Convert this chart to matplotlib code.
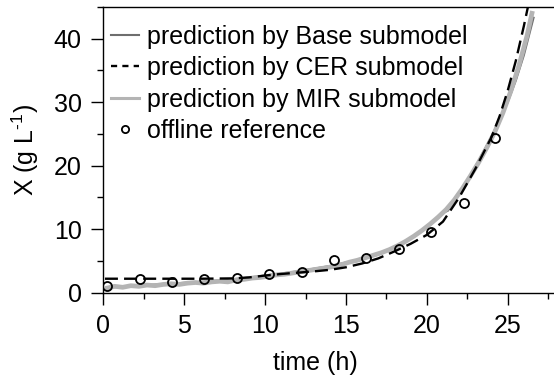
import matplotlib
matplotlib.use('Agg')
import matplotlib.pyplot as plt
from matplotlib.ticker import MultipleLocator

plt.rcParams['font.family'] = ['Liberation Sans', 'DejaVu Sans']
plt.rcParams['mathtext.fontset'] = 'custom'
plt.rcParams['mathtext.rm'] = 'Liberation Sans'
plt.rcParams['mathtext.default'] = 'regular'

# offline reference samples
t_ref = [0.25, 2.27, 4.27, 6.25, 8.25, 10.27, 12.27, 14.27, 16.27, 18.25, 20.27, 22.27, 24.22]
x_ref = [1.1, 2.15, 1.73, 2.2, 2.26, 2.94, 3.25, 5.1, 5.4, 6.83, 9.5, 14.2, 24.3]

# CER submodel prediction
t_cer = [0.1, 2, 4, 6, 8, 9, 10, 11, 12, 13, 14, 15, 16, 17, 18, 19, 20, 21, 22, 23, 24, 24.5, 25, 25.5, 26, 26.25]
x_cer = [2.2, 2.2, 2.2, 2.2, 2.25, 2.4, 2.7, 2.95, 3.15, 3.35, 3.6, 4.0, 4.6, 5.4, 6.5, 7.7, 9.1, 11.2, 15.0, 19.5, 24.5, 27.8, 31.8, 36.5, 42.0, 45.0]

# Base submodel prediction
t_base = [0.3, 2, 4, 6, 8, 10, 12, 14, 16, 17, 18, 19, 20, 20.5, 21, 21.3, 22, 23, 24, 25, 25.5, 26, 26.6]
x_base = [0.8, 1.1, 1.4, 1.7, 2.1, 2.7, 3.35, 4.2, 5.3, 6.0, 7.2, 8.6, 10.3, 11.3, 12.6, 12.9, 15.6, 19.8, 24.6, 30.0, 33.4, 37.4, 43.3]

# MIR submodel prediction (noisy)
t_mir = [0.2, 0.7, 1.2, 1.7, 2.2, 2.7, 3.2, 3.7, 4.2, 4.7, 5.2, 5.7, 6.2, 6.7, 7.2, 7.7, 8.2, 8.7,
         9.2, 9.7, 10.2, 10.7, 11.2, 11.7, 12.2, 12.7, 13.2, 13.7, 14.2, 14.7, 15.2, 15.7, 16.2, 16.7,
         17.2, 17.7, 18.2, 18.7, 19.2, 19.7, 20.2, 20.7, 21.2, 21.7, 22.2, 22.7, 23.2, 23.7, 24.2, 24.7,
         25.2, 25.7, 26.2, 26.5]
x_mir = [0.7, 1.0, 0.85, 1.1, 1.0, 1.2, 1.1, 1.3, 1.4, 1.3, 1.5, 1.6, 1.5, 1.7, 1.8, 1.7, 2.0, 2.1,
         2.3, 2.4, 2.6, 2.8, 2.9, 3.1, 3.3, 3.5, 3.7, 3.9, 4.1, 4.4, 4.8, 5.1, 5.5, 5.9,
         6.3, 6.8, 7.4, 8.1, 8.9, 9.8, 10.8, 11.9, 13.1, 14.6, 16.4, 18.4, 20.5, 22.8, 25.3, 28.3,
         31.8, 35.8, 40.5, 44.0]

labels = ['prediction by Base submodel', 'prediction by CER submodel',
          'prediction by MIR submodel', 'offline reference']

FS = 18

fig = plt.figure(figsize=(5.54, 3.78), dpi=100)
ax = fig.add_axes([0.1865, 0.2257, 0.8175, 0.7559])

l_base, = ax.plot(t_base, x_base, color='#6e6e6e', lw=1.5, zorder=2, label=labels[0])
l_mir, = ax.plot(t_mir, x_mir, color='#b4b4b4', lw=3.4, zorder=3, label=labels[2])
l_cer, = ax.plot(t_cer, x_cer, color='black', lw=1.7, dashes=(5.5, 2.6), zorder=4, label=labels[1])
l_ref, = ax.plot(t_ref, x_ref, 'o', mfc='none', mec='black', mew=1.3, ms=6.5, zorder=5, label=labels[3])

ax.set_xlim(0, 28)
ax.set_ylim(0, 45)
ax.xaxis.set_major_locator(MultipleLocator(5))
ax.xaxis.set_minor_locator(MultipleLocator(2.5))
ax.yaxis.set_major_locator(MultipleLocator(10))
ax.yaxis.set_minor_locator(MultipleLocator(5))
ax.tick_params(which='major', direction='out', length=8.5, width=1.0, labelsize=FS, pad=7)
ax.tick_params(which='minor', direction='out', length=4.3, width=1.0)
for s in ax.spines.values():
    s.set_linewidth(1.0)

ax.set_xlabel('time (h)', fontsize=FS)
ax.xaxis.set_label_coords(0.4675, -0.205)
ax.set_ylabel('X (g L$^{\\text{-}1}$)', fontsize=FS)
ax.yaxis.set_label_coords(-0.137, 0.5)

leg = ax.legend(handles=[l_base, l_cer, l_mir, l_ref], loc='upper left',
                bbox_to_anchor=(0.018, 0.938), frameon=False, fontsize=FS,
                borderpad=0, borderaxespad=0, handlelength=1.12, handletextpad=0.32,
                labelspacing=0.3, markerscale=0.8)
leg.get_lines()[1].set_dashes((2.6, 2.2))
leg.get_lines()[2].set_linewidth(2.2)

fig.savefig('out.png', dpi=100)
